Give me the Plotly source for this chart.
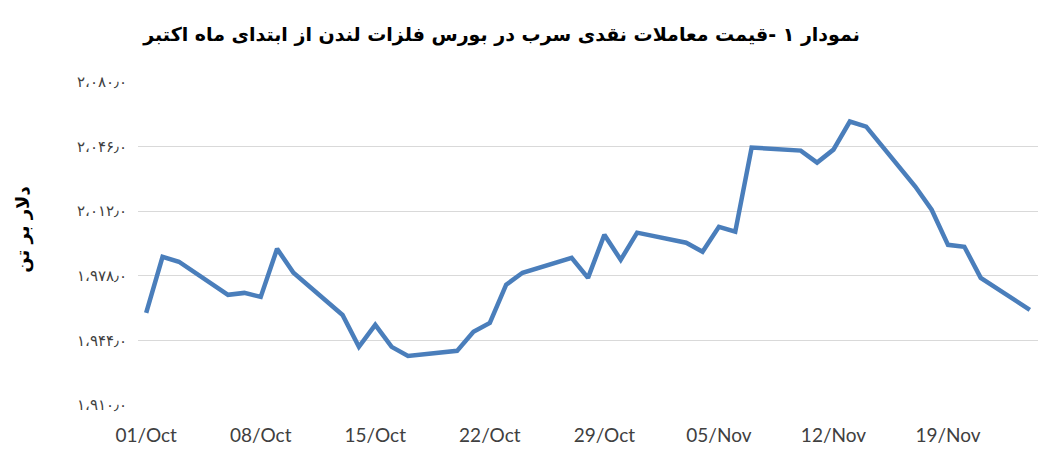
import plotly.graph_objects as go

# LME cash lead price, weekday fixes (USD/t)
dates = [
    "2025-10-01", "2025-10-02", "2025-10-03",
    "2025-10-06", "2025-10-07", "2025-10-08", "2025-10-09", "2025-10-10",
    "2025-10-13", "2025-10-14", "2025-10-15", "2025-10-16", "2025-10-17",
    "2025-10-20", "2025-10-21", "2025-10-22", "2025-10-23", "2025-10-24",
    "2025-10-27", "2025-10-28", "2025-10-29", "2025-10-30", "2025-10-31",
    "2025-11-03", "2025-11-04", "2025-11-05", "2025-11-06", "2025-11-07",
    "2025-11-10", "2025-11-11", "2025-11-12", "2025-11-13", "2025-11-14",
    "2025-11-17", "2025-11-18", "2025-11-19", "2025-11-20", "2025-11-21",
    "2025-11-24",
]
prices = [
    1958.5, 1988.0, 1985.4,
    1968.0, 1969.0, 1966.9, 1992.2, 1979.6,
    1957.4, 1940.6, 1952.2, 1940.6, 1935.8,
    1938.5, 1948.5, 1953.2, 1973.3, 1979.6,
    1987.5, 1976.9, 1999.6, 1986.4, 2000.7,
    1995.4, 1990.7, 2003.8, 2001.2, 2045.5,
    2043.9, 2037.6, 2044.4, 2059.2, 2056.5,
    2025.0, 2012.8, 1994.3, 1993.3, 1976.9,
    1960.1,
]

y_tickvals = [1910, 1944, 1978, 2012, 2046, 2080]
y_ticktext = ["۱،۹۱۰٫۰", "۱،۹۴۴٫۰", "۱،۹۷۸٫۰", "۲،۰۱۲٫۰", "۲،۰۴۶٫۰", "۲،۰۸۰٫۰"]
x_tickvals = ["2025-10-01", "2025-10-08", "2025-10-15", "2025-10-22",
              "2025-10-29", "2025-11-05", "2025-11-12", "2025-11-19"]

title_text = "نمودار ۱ -قیمت معاملات نقدی سرب در بورس فلزات لندن از ابتدای ماه اکتبر"
ytitle_text = "دلار بر تن"

fig = go.Figure()
fig.add_trace(go.Scatter(
    x=dates, y=prices, mode="lines",
    line=dict(color="#4a7ebb", width=4.5),
    hoverinfo="x+y",
))

fig.update_layout(
    width=1056, height=464,
    paper_bgcolor="white", plot_bgcolor="white",
    margin=dict(l=138, r=18, t=82, b=59),
    showlegend=False,
    title=dict(
        text="<b>" + title_text + "</b>",
        x=0.475, xanchor="center", xref="container",
        y=0.925, yanchor="middle", yref="container",
        font=dict(family="DejaVu Sans", size=19, color="#000000"),
    ),
    annotations=[dict(
        text="<b>" + ytitle_text + "</b>",
        xref="paper", yref="paper", x=-0.128, y=0.542,
        xanchor="center", yanchor="middle",
        textangle=-90, showarrow=False,
        font=dict(family="DejaVu Sans", size=18, color="#000000"),
    )],
)

fig.update_xaxes(
    type="date",
    range=["2025-09-30 12:00", "2025-11-24 12:00"],
    tickvals=x_tickvals, tickformat="%d/%b",
    showgrid=False, zeroline=False, showline=False,
    ticks="", ticklabelstandoff=17, automargin=False,
    tickfont=dict(family="Lato", size=19, color="#404040"),
)

fig.update_yaxes(
    range=[1910, 2080],
    tickvals=y_tickvals, ticktext=y_ticktext,
    showgrid=True, gridcolor="#d9d9d9", gridwidth=1.3,
    zeroline=False, showline=False, ticks="", ticklabelstandoff=10,
    automargin=False,
    tickfont=dict(family="DejaVu Sans", size=15, color="#404040"),
)

fig.write_html("out.html", config={"displayModeBar": False},
               post_script="document.body.style.margin='0';")
